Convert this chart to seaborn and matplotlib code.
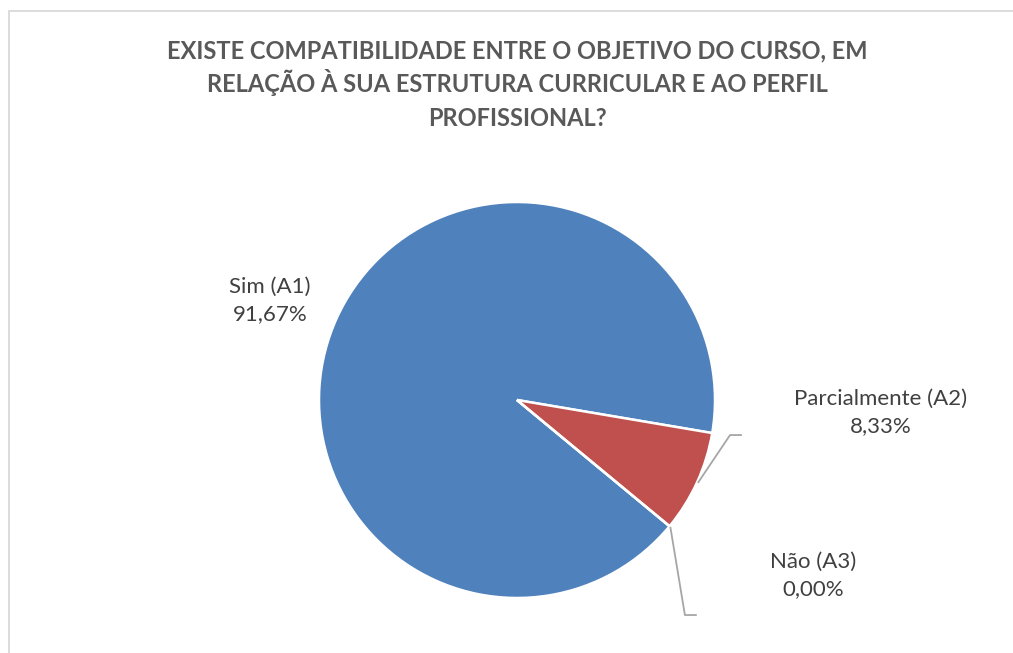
import numpy as np
import matplotlib
matplotlib.use('Agg')
import matplotlib.pyplot as plt
import seaborn as sns
from matplotlib.patches import Rectangle

# --- data ---
categories = ["Sim (A1)", "Parcialmente (A2)", "Não (A3)"]
values = [91.67, 8.33, 0.00]
colors = ["#4F81BD", "#C0504D", "#9BBB59"]
title_lines = ["EXISTE COMPATIBILIDADE ENTRE O OBJETIVO DO CURSO, EM",
               "RELAÇÃO À SUA ESTRUTURA CURRICULAR E AO PERFIL",
               "PROFISSIONAL?"]

# label positions (in pie-radius units) and leader elbows
label_pos = [(-1.247, 0.505), (1.838, -0.061), (1.495, -0.884)]
leader_elbow = [None, (1.076, -0.177), (0.848, -1.086)]
leader_len = 0.06

sns.set_theme(style="white")
plt.rcParams['font.family'] = ['Lato', 'DejaVu Sans']

W, H = 1013, 653
fig = plt.figure(figsize=(W / 100, H / 100), dpi=100)
ax = fig.add_axes([0, 0, 1, 1])

# chart frame (cropped Excel chart area)
fig.patches.append(Rectangle((8.5 / W, -0.1), 1.2, 1.1 - 11.5 / H,
                             transform=fig.transFigure, fill=False,
                             edgecolor="#D9D9D9", linewidth=1.3))

start = -39.6
wedges, _ = ax.pie(values, colors=colors, startangle=start, counterclock=False,
                   radius=1.0, center=(0, 0),
                   wedgeprops=dict(edgecolor="white", linewidth=1.8))

# labels + leader lines
total = sum(values)
ang = start
for i, (cat, v) in enumerate(zip(categories, values)):
    span = 360 * v / total
    mid = np.deg2rad(ang - span / 2)
    ang -= span
    lx, ly = label_pos[i]
    ax.text(lx, ly, f"{cat}\n{v:.2f}%".replace(".", ","), ha="center", va="center",
            fontsize=16, color="#404040", linespacing=1.45)
    if leader_elbow[i] is not None:
        ex, ey = leader_elbow[i]
        px, py = np.cos(mid) * 1.005, np.sin(mid) * 1.005
        ax.plot([px, ex, ex + leader_len], [py, ey, ey], color="#A6A6A6",
                linewidth=1.3, solid_capstyle="butt")

scale = 198
ax.set_xlim(-517 / scale, (W - 517) / scale)
ax.set_ylim(-(H - 400) / scale, 400 / scale)
ax.set_aspect("auto")
ax.axis("off")

for k, line in enumerate(title_lines):
    fig.text(517 / W, 1 - (58.5 + 34 * k) / H, line, ha="center", va="baseline",
             fontsize=17, fontweight="bold", color="#595959")

fig.savefig("out.png", dpi=100)
